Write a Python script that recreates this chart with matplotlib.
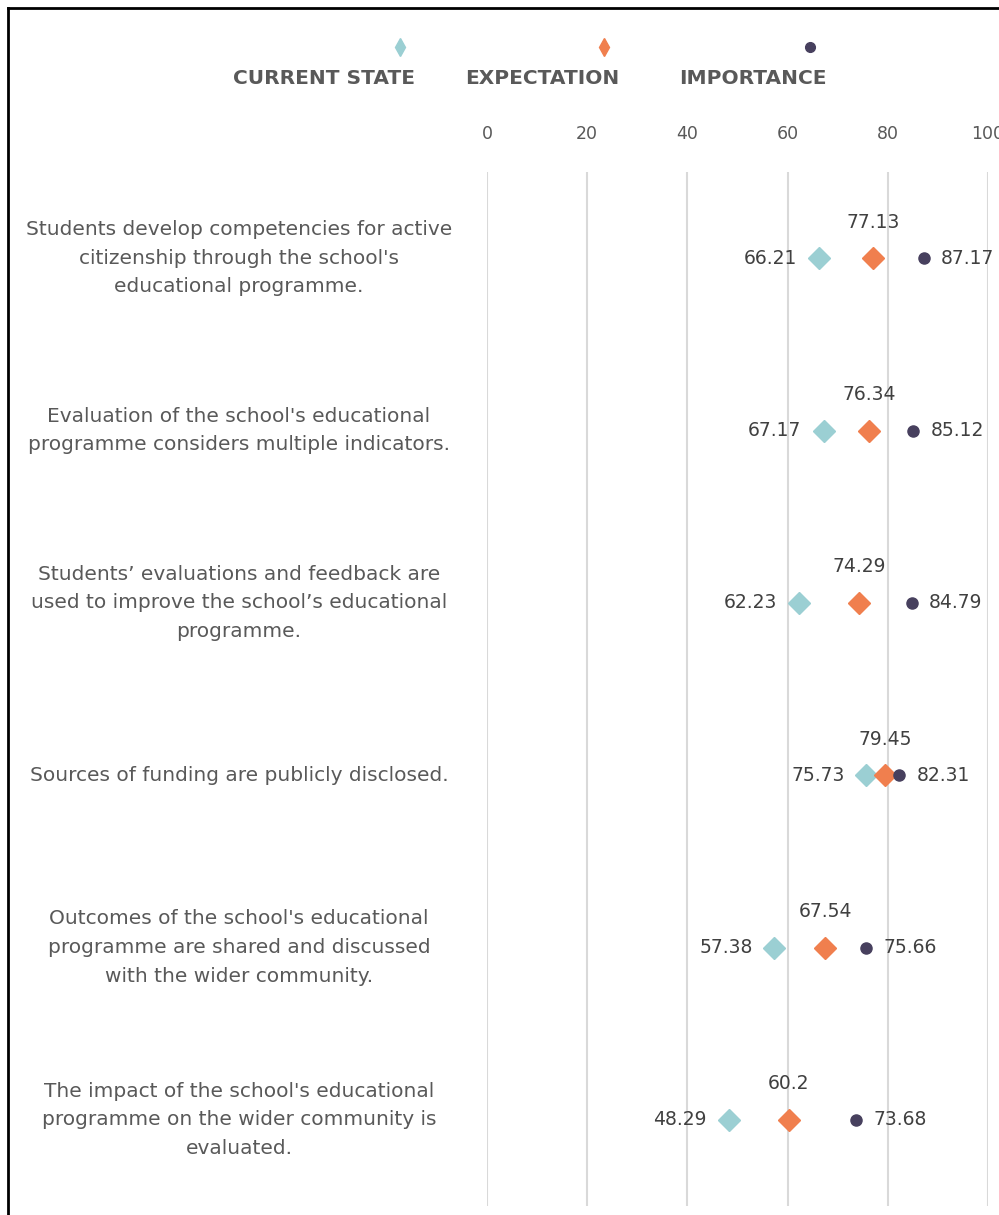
import matplotlib.pyplot as plt
import matplotlib.transforms as mtransforms
from matplotlib.lines import Line2D

plt.rcParams['font.family'] = ['DejaVu Sans']

categories = [
    "Students develop competencies for active\ncitizenship through the school's\neducational programme.",
    "Evaluation of the school's educational\nprogramme considers multiple indicators.",
    "Students\u2019 evaluations and feedback are\nused to improve the school\u2019s educational\nprogramme.",
    "Sources of funding are publicly disclosed.",
    "Outcomes of the school's educational\nprogramme are shared and discussed\nwith the wider community.",
    "The impact of the school's educational\nprogramme on the wider community is\nevaluated.",
]
current = [66.21, 67.17, 62.23, 75.73, 57.38, 48.29]
expectation = [77.13, 76.34, 74.29, 79.45, 67.54, 60.2]
importance = [87.17, 85.12, 84.79, 82.31, 75.66, 73.68]
xticks = [0, 20, 40, 60, 80, 100]

c_cur = '#9BCFD3'
c_exp = '#F07F4E'
c_imp = '#47405E'
txt = '#404040'
grey = '#595959'

W, H = 999, 1215
fig = plt.figure(figsize=(W / 100, H / 100), dpi=100)
ax = fig.add_axes([487 / W, (H - 1206) / H, 501 / W, 1034 / H])

y = list(range(len(categories)))
ax.plot(current, y, 'D', color=c_cur, markersize=11, linestyle='none', zorder=3)
ax.plot(expectation, y, 'D', color=c_exp, markersize=11, linestyle='none', zorder=3)
ax.plot(importance, y, 'o', color=c_imp, markersize=8, linestyle='none', zorder=3)

for yi, v in zip(y, current):
    ax.annotate(f'{v:g}', (v, yi), xytext=(-22, 0), textcoords='offset pixels',
                ha='right', va='center', fontsize=13.5, color=txt)
for yi, v in zip(y, expectation):
    ax.annotate(f'{v:g}', (v, yi), xytext=(0, 36), textcoords='offset pixels',
                ha='center', va='center', fontsize=13.5, color=txt)
for yi, v in zip(y, importance):
    ax.annotate(f'{v:g}', (v, yi), xytext=(17, 0), textcoords='offset pixels',
                ha='left', va='center', fontsize=13.5, color=txt)

ax.set_xlim(0, 100)
ax.set_ylim(len(categories) - 0.5, -0.5)
ax.set_xticks(xticks)
ax.xaxis.tick_top()
ax.tick_params(axis='x', length=0, pad=21, labelsize=12.5, labelcolor=grey)
ax.set_yticks([])
ax.grid(axis='x', color='#D9D9D9', linewidth=1.5)
for s in ax.spines.values():
    s.set_visible(False)
ax.set_axisbelow(True)

trans = mtransforms.blended_transform_factory(fig.transFigure, ax.transData)
for yi, lab in zip(y, categories):
    ax.text(239 / W, yi, lab, transform=trans, ha='center', va='center',
            fontsize=14.5, color=grey, linespacing=1.65)

# legend: marker above label
leg_items = [('CURRENT STATE', c_cur, 'd', 400, 324),
             ('EXPECTATION', c_exp, 'd', 604, 542),
             ('IMPORTANCE', c_imp, 'o', 810, 753)]
for name, col, mk, mx, tx in leg_items:
    fig.add_artist(Line2D([mx / W], [1 - 47 / H], marker=mk, color=col,
                          markersize=9 if mk == 'd' else 7, linestyle='none',
                          transform=fig.transFigure))
    fig.text(tx / W, 1 - 79 / H, name, ha='center', va='center', fontsize=14.5,
             fontweight='bold', color=grey)

# border
fig.add_artist(Line2D([8 / W, 8 / W], [0, 1 - 8 / H], color='black', linewidth=2,
                      transform=fig.transFigure))
fig.add_artist(Line2D([8 / W, 1], [1 - 8 / H, 1 - 8 / H], color='black', linewidth=2,
                      transform=fig.transFigure))

fig.savefig('out.png', dpi=100)
